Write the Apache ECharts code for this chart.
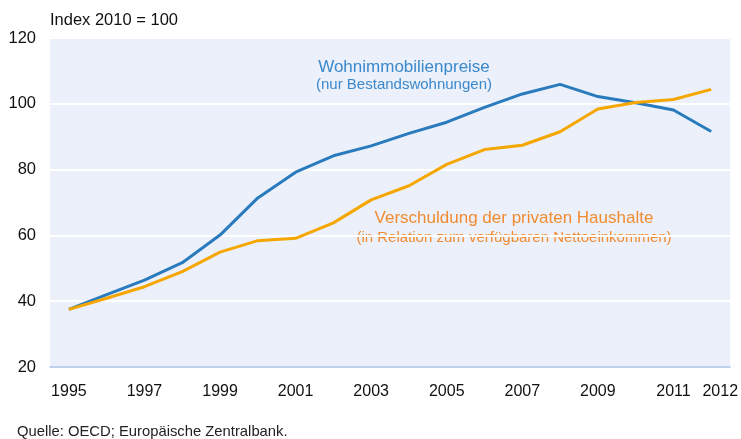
<!DOCTYPE html>
<html>
<head>
<meta charset="utf-8">
<script src="https://cdn.jsdelivr.net/npm/echarts@6/dist/echarts.min.js"></script>
<style>
  html, body { margin: 0; padding: 0; background: #fff; }
  #chart { width: 741px; height: 439px; }
</style>
</head>
<body>
<div id="chart"></div>
<script>
var years = ['1995', '1996', '1997', '1998', '1999', '2000', '2001', '2002', '2003',
             '2004', '2005', '2006', '2007', '2008', '2009', '2010', '2011', '2012'];
var immoPreise = [37.5, 42, 46.4, 51.7, 60.1, 71.4, 79.2, 84.2, 87.2,
                  91, 94.4, 98.9, 103, 105.9, 102.2, 100.3, 98.1, 91.6];
var verschuldung = [37.5, 40.9, 44.4, 49, 54.9, 58.4, 59.1, 63.8, 70.8,
                    75.1, 81.6, 86.1, 87.4, 91.5, 98.4, 100.4, 101.3, 104.4];
var yTicks = [20, 40, 60, 80, 100, 120];

var font = '"Liberation Sans", Arial, sans-serif';
var chart = echarts.init(document.getElementById('chart'));

chart.setOption({
    animation: false,
    textStyle: { fontFamily: font },
    grid: {
        left: 50, right: 10, top: 38, bottom: 72,
        show: true, backgroundColor: '#ebf0fa', borderWidth: 0
    },
    graphic: [
        { type: 'text', x: 50, y: 20,
          style: { text: 'Index 2010 = 100', font: '16.5px ' + font, fill: '#111', verticalAlign: 'middle' } },
        { type: 'text', x: 17, y: 432,
          style: { text: 'Quelle: OECD; Europäische Zentralbank.', font: '14.8px ' + font, fill: '#222', verticalAlign: 'middle' } },
        { type: 'text', x: 404, y: 67,
          style: { text: 'Wohnimmobilienpreise', font: '17px ' + font, fill: '#3a89cc',
                   align: 'center', verticalAlign: 'middle' } },
        { type: 'text', x: 404, y: 85,
          style: { text: '(nur Bestandswohnungen)', font: '15px ' + font, fill: '#3a89cc',
                   align: 'center', verticalAlign: 'middle' } },
        { type: 'text', x: 514, y: 218,
          style: { text: 'Verschuldung der privaten Haushalte', font: '17px ' + font, fill: '#f28b30',
                   align: 'center', verticalAlign: 'middle' } },
        { type: 'text', x: 514, y: 238,
          style: { text: '(in Relation zum verfügbaren Nettoeinkommen)', font: '15px ' + font, fill: '#f28b30',
                   align: 'center', verticalAlign: 'middle' } }
    ],
    xAxis: {
        type: 'category',
        data: years,
        boundaryGap: true,
        axisLine: { lineStyle: { color: '#a9c1e6', width: 1.5 } },
        axisTick: { interval: 0, length: 5, lineStyle: { color: '#a9c1e6' } },
        axisLabel: {
            interval: function (i) { return i % 2 === 0 || i === years.length - 1; },
            formatter: function (v, i) {
                return i === years.length - 1 ? '{last|' + v + '}' : v;
            },
            rich: { last: { fontSize: 16, color: '#111', padding: [0, 0, 0, 18] } },
            color: '#111', fontSize: 16, margin: 17
        },
        splitLine: { show: false }
    },
    yAxis: {
        type: 'value',
        min: yTicks[0], max: yTicks[yTicks.length - 1], interval: 20,
        axisLine: { show: false },
        axisTick: { show: false },
        axisLabel: { color: '#111', fontSize: 16.5, margin: 14 },
        splitLine: { lineStyle: { color: '#ffffff', width: 2 } }
    },
    series: [
        {
            name: 'Wohnimmobilienpreise',
            type: 'line',
            data: immoPreise,
            symbol: 'none',
            lineStyle: { color: '#2a7bbd', width: 3 }
        },
        {
            name: 'Verschuldung der privaten Haushalte',
            type: 'line',
            data: verschuldung,
            symbol: 'none',
            lineStyle: { color: '#f5a700', width: 3 }
        }
    ]
});
</script>
</body>
</html>
